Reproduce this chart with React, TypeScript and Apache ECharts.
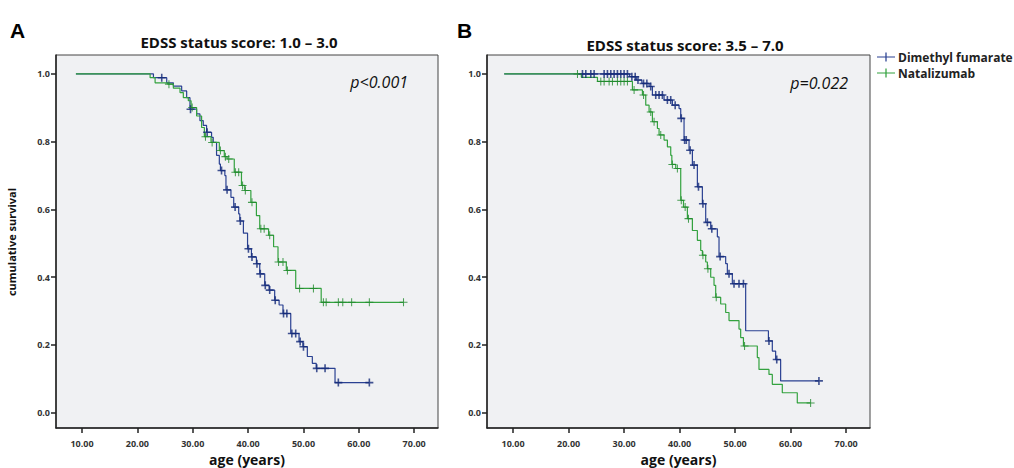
import React, { useEffect, useRef } from "react";
import * as echarts from "echarts";

// ---------- tick values ----------
const xTicks = [10, 20, 30, 40, 50, 60, 70];
const yTicks = [0, 0.2, 0.4, 0.6, 0.8, 1.0];

const seriesNames = ["Dimethyl fumarate", "Natalizumab"];
const titles = ["EDSS status score: 1.0 – 3.0", "EDSS status score: 3.5 – 7.0"];
const pValues = ["p<0.001", "p=0.022"];

// ---------- Panel A: Dimethyl fumarate ----------
const aDmfStart = 8.9;
const aDmfTimes = [22.9, 25.3, 26.5, 28.0, 28.9, 29.5, 30.7, 31.3, 31.9, 32.5, 33.4, 33.7, 34.3, 34.8, 35.0, 35.8, 36.0, 36.9, 37.4, 38.3, 38.5, 39.15, 39.9, 40.6, 41.5, 42.1, 43.0, 43.8, 44.8, 45.6, 46.3, 47.7, 49.2, 49.9, 50.7, 51.6, 52.3, 55.7];
const aDmfSurv = [0.989, 0.974, 0.964, 0.95, 0.93, 0.896, 0.882, 0.862, 0.848, 0.828, 0.813, 0.798, 0.76, 0.734, 0.715, 0.70, 0.658, 0.636, 0.607, 0.587, 0.566, 0.53, 0.484, 0.46, 0.44, 0.41, 0.376, 0.362, 0.332, 0.318, 0.293, 0.234, 0.21, 0.195, 0.166, 0.146, 0.131, 0.089];
const aDmfCensor = [24.4, 29.6, 32.6, 35.2, 36.2, 37.65, 38.6, 40.06, 40.7, 41.6, 42.2, 43.1, 43.9, 44.9, 46.4, 47.0, 47.9, 48.6, 49.4, 50.0, 52.4, 53.9, 56.3, 61.9];

// ---------- Panel A: Natalizumab ----------
const aNtzStart = 8.9;
const aNtzTimes = [22.3, 23.2, 25.5, 26.5, 27.7, 28.3, 29.2, 29.7, 30.7, 31.6, 32.1, 33.3, 34.8, 35.7, 36.2, 37.5, 38.8, 39.4, 40.5, 41.5, 42.1, 43.7, 44.6, 45.4, 46.9, 48.6, 53.2];
const aNtzSurv = [0.989, 0.974, 0.97, 0.958, 0.945, 0.93, 0.921, 0.901, 0.876, 0.842, 0.815, 0.798, 0.774, 0.756, 0.749, 0.71, 0.671, 0.656, 0.621, 0.582, 0.543, 0.524, 0.49, 0.445, 0.42, 0.367, 0.326];
const aNtzCensor = [25.7, 29.9, 32.3, 33.5, 35.0, 35.9, 36.5, 37.7, 38.3, 39.0, 39.5, 40.7, 42.3, 42.9, 43.9, 45.5, 46.3, 47.1, 49.3, 51.8, 53.6, 54.1, 56.3, 57.1, 58.7, 61.9, 68.07];

// ---------- Panel B: Dimethyl fumarate ----------
const bDmfStart = 8.4;
const bDmfTimes = [31.0, 32.2, 33.2, 34.5, 35.1, 37.2, 38.7, 39.9, 40.2, 40.8, 41.7, 42.3, 43.2, 44.1, 44.7, 45.6, 46.8, 47.1, 48.3, 48.6, 49.5, 51.9, 56.0, 56.7, 57.3, 58.2];
const bDmfSurv = [0.992, 0.982, 0.972, 0.963, 0.938, 0.923, 0.908, 0.898, 0.869, 0.805, 0.775, 0.731, 0.667, 0.617, 0.562, 0.543, 0.519, 0.461, 0.44, 0.41, 0.381, 0.242, 0.212, 0.182, 0.157, 0.094];
const bDmfCensor = [22.5, 23.1, 24.0, 24.6, 26.4, 27.0, 27.6, 28.2, 28.8, 29.4, 30.0, 30.6, 31.4, 32.0, 32.5, 33.5, 34.1, 34.8, 35.7, 36.3, 36.9, 37.8, 38.4, 39.2, 40.3, 40.9, 41.2, 41.9, 42.6, 43.4, 44.2, 45.0, 45.8, 47.3, 48.9, 49.8, 50.7, 51.5, 56.1, 57.5, 65.1];

// ---------- Panel B: Natalizumab ----------
const bNtzStart = 8.4;
const bNtzTimes = [22.3, 25.2, 31.5, 33.3, 33.9, 34.5, 35.1, 36.0, 36.3, 37.2, 37.8, 38.4, 38.6, 39.3, 40.2, 40.7, 41.4, 42.3, 43.2, 43.8, 44.1, 44.7, 45.0, 45.6, 46.2, 46.5, 47.4, 48.3, 48.9, 50.7, 51.0, 51.5, 54.0, 54.3, 56.1, 56.7, 58.5, 61.2];
const bNtzSurv = [0.99, 0.978, 0.953, 0.938, 0.908, 0.888, 0.859, 0.839, 0.82, 0.805, 0.785, 0.76, 0.733, 0.721, 0.627, 0.607, 0.573, 0.538, 0.509, 0.479, 0.465, 0.445, 0.425, 0.40, 0.376, 0.341, 0.321, 0.296, 0.272, 0.247, 0.222, 0.197, 0.163, 0.128, 0.113, 0.084, 0.059, 0.029];
const bNtzCensor = [21.6, 25.8, 26.4, 27.3, 27.9, 28.8, 29.4, 30.0, 30.6, 31.8, 33.5, 34.8, 35.4, 36.6, 38.7, 39.6, 40.3, 41.0, 41.6, 44.2, 45.1, 46.6, 51.7, 63.6];

const BLUE = "#2a4192";
const BLUE_DARK = "#142a78";
const GREEN = "#33a23f";
const GREEN_DARK = "#1f8a2c";

const survAt = (times: number[], survs: number[], t: number) => {
  let s = 1;
  for (let i = 0; i < times.length; i++) if (times[i] <= t + 1e-9) s = survs[i];
  return s;
};

const kmLine = (start: number, times: number[], survs: number[], censors: number[]) => {
  const pts: number[][] = [[start, 1]];
  times.forEach((t, i) => pts.push([t, survs[i]]));
  const end = Math.max(times[times.length - 1], censors[censors.length - 1]);
  pts.push([end, survAt(times, survs, end)]);
  return pts;
};

const kmCensor = (times: number[], survs: number[], censors: number[]) =>
  censors.map((c) => [c, survAt(times, survs, c)]);

const CROSS_BOLD = "path://M0,4H10V6H0ZM4,0H6V10H4Z";
const CROSS_THIN = "path://M0,4.35H10V5.65H0ZM4.35,0H5.65V10H4.35Z";
const LEGEND_ICON = "path://M0,4.4H20V5.6H0ZM9.3,0H10.7V10H9.3Z";

const FONT = "'Open Sans', 'DejaVu Sans', sans-serif";

export default function App() {
  const ref = useRef<HTMLDivElement>(null);

  useEffect(() => {
    if (!ref.current) return;
    const chart = echarts.init(ref.current, undefined, { renderer: "svg" });

    const grids = [
      { left: 56, top: 55, width: 382, height: 373 },
      { left: 487, top: 55, width: 383, height: 373 },
    ];
    const titleCenters = [234, 680];

    const xAxis = grids.map((_, i) => ({
      type: "value" as const,
      gridIndex: i,
      min: 5.3,
      max: 74.3,
      axisLine: { show: true, onZero: false, lineStyle: { color: "#222", width: 1.5 } },
      axisTick: { show: true, customValues: xTicks, length: 5, lineStyle: { color: "#222", width: 1.5 } },
      axisLabel: {
        customValues: xTicks,
        formatter: (v: number) => v.toFixed(2),
        fontFamily: FONT,
        fontSize: 9,
        fontWeight: "bold" as const,
        color: "#333",
        margin: 11,
      },
      splitLine: { show: false },
      name: "age (years)",
      nameLocation: "middle" as const,
      nameGap: 21,
      nameTextStyle: { fontFamily: FONT, fontSize: 14, fontWeight: "bold" as const, color: "#111" },
    }));

    const yAxis = grids.map((_, i) => ({
      type: "value" as const,
      gridIndex: i,
      min: -0.045,
      max: 1.056,
      axisLine: { show: true, onZero: false, lineStyle: { color: "#222", width: 1.5 } },
      axisTick: { show: true, customValues: yTicks, length: 5, lineStyle: { color: "#222", width: 1.5 } },
      axisLabel: {
        customValues: yTicks,
        formatter: (v: number) => v.toFixed(1),
        fontFamily: FONT,
        fontSize: 9,
        fontWeight: "bold" as const,
        color: "#333",
        margin: 6,
      },
      splitLine: { show: false },
    }));

    const panels = [
      { dmf: [aDmfStart, aDmfTimes, aDmfSurv, aDmfCensor], ntz: [aNtzStart, aNtzTimes, aNtzSurv, aNtzCensor] },
      { dmf: [bDmfStart, bDmfTimes, bDmfSurv, bDmfCensor], ntz: [bNtzStart, bNtzTimes, bNtzSurv, bNtzCensor] },
    ] as any[];

    const series: any[] = [];
    panels.forEach((p, i) => {
      const [ds, dt, dv, dc] = p.dmf;
      const [ns, nt, nv, nc] = p.ntz;
      series.push({
        name: seriesNames[0], type: "line", step: "end", xAxisIndex: i, yAxisIndex: i,
        symbol: "none", color: BLUE, lineStyle: { color: BLUE, width: 1.2 },
        data: kmLine(ds, dt, dv, dc), z: 2,
      });
      series.push({
        name: seriesNames[1], type: "line", step: "end", xAxisIndex: i, yAxisIndex: i,
        symbol: "none", color: GREEN, lineStyle: { color: GREEN, width: 1.2 },
        data: kmLine(ns, nt, nv, nc), z: 3,
      });
      series.push({
        name: seriesNames[0], type: "scatter", xAxisIndex: i, yAxisIndex: i,
        symbol: CROSS_BOLD, symbolSize: 8, itemStyle: { color: BLUE_DARK },
        data: kmCensor(dt, dv, dc), z: 4,
      });
      series.push({
        name: seriesNames[1], type: "scatter", xAxisIndex: i, yAxisIndex: i,
        symbol: CROSS_THIN, symbolSize: 8, itemStyle: { color: GREEN_DARK },
        data: kmCensor(nt, nv, nc), z: 5,
      });
    });

    chart.setOption({
      animation: false,
      backgroundColor: "#ffffff",
      textStyle: { fontFamily: FONT },
      title: titles.map((t, i) => ({
        text: t,
        left: titleCenters[i],
        top: 29 + i * 3,
        textAlign: "center",
        textStyle: { fontFamily: FONT, fontSize: 15, fontWeight: "bold", color: "#111" },
      })),
      legend: {
        orient: "vertical",
        left: 872,
        top: 46,
        itemWidth: 18,
        itemHeight: 10,
        itemGap: 4,
        icon: LEGEND_ICON,
        data: seriesNames,
        textStyle: { fontFamily: FONT, fontSize: 12, fontWeight: "bold", color: "#222", padding: [0, 0, 0, -2] },
      },
      grid: grids.map((g) => ({
        ...g,
        outerBoundsMode: "none",
        containLabel: false,
        show: true,
        backgroundColor: "#f0f1f3",
        borderColor: "#444",
        borderWidth: 1,
      })),
      xAxis,
      yAxis,
      graphic: [
        { type: "text", left: 10, top: 20, style: { text: "A", font: "bold 21px 'Liberation Sans', Arial, sans-serif", fill: "#000" } },
        { type: "text", left: 457, top: 20, style: { text: "B", font: "bold 21px 'Liberation Sans', Arial, sans-serif", fill: "#000" } },
        {
          type: "text", x: 11, y: 242, rotation: Math.PI / 2,
          style: { text: "cumulative survival", font: `bold 11px ${FONT}`, fill: "#111", align: "center", verticalAlign: "middle" },
        },
        {
          type: "text", x: 408, y: 82,
          style: { text: pValues[0], font: `italic 16px ${FONT}`, fill: "#111", align: "right", verticalAlign: "middle" },
        },
        {
          type: "text", x: 848, y: 83,
          style: { text: pValues[1], font: `italic 16px ${FONT}`, fill: "#111", align: "right", verticalAlign: "middle" },
        },
      ],
      series,
    });

    return () => chart.dispose();
  }, []);

  return <div ref={ref} style={{ width: 1014, height: 468, position: "absolute", left: 0, top: 0 }} />;
}
